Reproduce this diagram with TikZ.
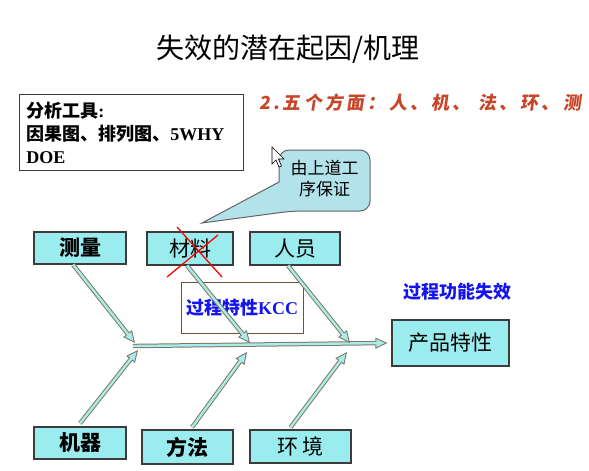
\documentclass[tikz,border=0pt]{standalone}
\usepackage{fontspec}
\usepackage{tikz}
\usetikzlibrary{positioning, arrows.meta, calc}

\setmainfont{Liberation Serif}
\newfontfamily\cjk{Noto Sans CJK SC}
\newfontfamily\cjkred[LetterSpace=18,FakeSlant=0.15]{Noto Sans CJK SC}

\definecolor{boxcyan}{RGB}{155,236,238}
\definecolor{boxline}{RGB}{60,60,60}
\definecolor{bonegray}{RGB}{125,120,100}
\definecolor{bonecyan}{RGB}{170,236,236}
\definecolor{callfill}{RGB}{178,226,234}
\definecolor{callline}{RGB}{100,100,100}
\definecolor{kccline}{RGB}{110,80,60}
\definecolor{kccblue}{RGB}{20,20,240}
\definecolor{aspectred}{RGB}{200,70,40}

\begin{document}
\begin{tikzpicture}[x=1pt, y=-1pt,
  causebox/.style={draw=boxline, line width=1.2pt, fill=boxcyan, inner sep=0pt,
    font=\cjk\fontsize{21}{25}\selectfont},
  bone/.style={draw=bonegray, line width=4.4pt,
    -{Triangle[length=12pt, width=11pt, fill=bonecyan, line width=0.9pt]},
    postaction={draw=bonecyan, line width=2.4pt, -, shorten >=10.5pt}},
  crossout/.style={red, line width=1.3pt}]
  \useasboundingbox (0,0) rectangle (589,471);

  % Title
  \node (title) at (288,49) {\cjk\fontsize{28}{32}\selectfont 失效的潜在起因/机理};

  % Tools box
  \node[draw=boxline, line width=0.9pt, anchor=north west, minimum width=224pt,
    minimum height=76pt, text width=210pt, inner xsep=7pt, align=left,
    font=\fontsize{18}{23}\selectfont\bfseries] (tools) at (19,94)
    {{\cjk 分析工具}:\\{\cjk 因果图、排列图、}5WHY\\DOE};

  % Five aspects
  \node[anchor=west, inner sep=0pt, text=aspectred] (aspects) at (259,103)
    {\cjkred\bfseries\fontsize{18}{22}\selectfont 2.五个方面：人、机、 法、环、测};

  % Process characteristic box
  \node[draw=kccline, line width=1pt, minimum width=122pt, minimum height=51pt,
    text=kccblue, font=\fontsize{18}{22}\selectfont\bfseries] (kcc) at (242,307.5)
    {{\cjk 过程特性}KCC};
  \node[text=kccblue, font=\cjk\bfseries\fontsize{18}{22}\selectfont] (failure)
    at (457,292) {过程功能失效};

  % Cause boxes
  \node[causebox, minimum width=92pt, minimum height=32pt] (celiang) at (80,248) {\bfseries 测量};
  \node[causebox, minimum width=86pt, minimum height=33pt] (cailiao) at (190,248.5) {材料};
  \node[causebox, minimum width=90pt, minimum height=33pt] (renyuan) at (295,248.5) {人员};
  \node[causebox, minimum width=92pt, minimum height=32pt] (jiqi) at (80,443) {\bfseries 机器};
  \node[causebox, minimum width=91pt, minimum height=34pt] (fangfa) at (187.5,447) {\bfseries 方法};
  \node[causebox, minimum width=101pt, minimum height=33pt] (huanjing) at (300.5,446.5) {环 境};

  % Effect box
  \node[causebox, minimum width=117pt, minimum height=46pt] (chanpin) at (450.5,343) {产品特性};

  % Points on the spine
  \coordinate (spine) at (133,346);
  \coordinate (up1) at (135,343);
  \coordinate (up2) at (250,343);
  \coordinate (up3) at (350,343);
  \coordinate (lo1) at (138,350);
  \coordinate (lo2) at (247,352);
  \coordinate (lo3) at (347,352);

  % Spine and bones
  \draw[bone] (spine) -- ([xshift=-4pt]chanpin.west);
  \draw[bone] ([xshift=-7pt]celiang.south) -- (up1);
  \draw[bone] ([xshift=-3pt]cailiao.south) -- (up2);
  \draw[bone] ([xshift=-7pt]renyuan.south) -- (up3);
  \draw[bone] ([yshift=3pt]jiqi.north) -- (lo1);
  \draw[bone] ([xshift=4.5pt,yshift=2pt]fangfa.north) -- (lo2);
  \draw[bone] ([xshift=-10pt,yshift=2pt]huanjing.north) -- (lo3);

  % Material crossed out
  \draw[crossout] (177,227) -- (222,277);
  \draw[crossout] (218,235) -- (167,277);

  % Callout
  \draw[fill=callfill, draw=callline, line width=1pt]
    (279,182) [rounded corners=10pt] -- (279,150) -- (370,150) -- (370,211)
    -- (292,211) [sharp corners] -- (202,223) -- cycle;
  \node[align=center, font=\cjk\fontsize{17}{21}\selectfont] (callout) at (324.5,179)
    {由上道工\\序保证};

  % Mouse pointer
  \draw[fill=white, line width=0.6pt]
    (272,147) -- (272,164) -- (276,160) -- (279,167) -- (281.5,166)
    -- (278.5,159) -- (284,159) -- cycle;
\end{tikzpicture}
\end{document}
